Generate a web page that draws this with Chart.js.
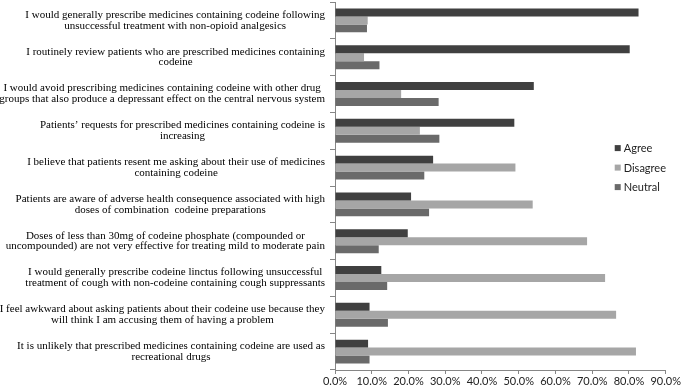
<!DOCTYPE html>
<html>
<head>
<meta charset="utf-8">
<script src="https://cdn.jsdelivr.net/npm/chart.js@4/dist/chart.umd.min.js"></script>
<style>
  html, body { margin: 0; padding: 0; background: #ffffff; }
  #wrap { position: relative; width: 682px; height: 388px; }
</style>
</head>
<body>
<div id="wrap"><canvas id="c" width="682" height="388"></canvas></div>
<script>
const categories = [
  ["I would generally prescribe medicines containing codeine following", "unsuccessful treatment with non-opioid analgesics"],
  ["I routinely review patients who are prescribed medicines containing", "codeine"],
  ["I would avoid prescribing medicines containing codeine with other drug", "groups that also produce a depressant effect on the central nervous system"],
  ["Patients\u2019 requests for prescribed medicines containing codeine is", "increasing"],
  ["I believe that patients resent me asking about their use of medicines", "containing codeine"],
  ["Patients are aware of adverse health consequence associated with high", "doses of combination  codeine preparations"],
  ["Doses of less than 30mg of codeine phosphate (compounded or", "uncompounded) are not very effective for treating mild to moderate pain"],
  ["I would generally prescribe codeine linctus following unsuccessful", "treatment of cough with non-codeine containing cough suppressants"],
  ["I feel awkward about asking patients about their codeine use because they", "will think I am accusing them of having a problem"],
  ["It is unlikely that prescribed medicines containing codeine are used as", "recreational drugs"]
];
const seriesNames = ["Agree", "Disagree", "Neutral"];
const agree    = [82.6, 80.2, 54.1, 48.8, 26.7, 20.7, 19.8, 12.6, 9.4, 9.0];
const disagree = [8.9, 7.9, 18.0, 23.1, 49.1, 53.8, 68.6, 73.5, 76.5, 81.9];
const neutral  = [8.7, 12.1, 28.2, 28.4, 24.3, 25.6, 11.9, 14.2, 14.4, 9.4];
const xTicks = [0, 10, 20, 30, 40, 50, 60, 70, 80, 90];

const colors = ["#404040", "#a6a6a6", "#6a6a6a"];
const axisColor = "#868686";

const labelPlugin = {
  id: "wrappedLabels",
  afterDraw(chart) {
    const ctx = chart.ctx;
    const y = chart.scales.y;
    const area = chart.chartArea;
    ctx.save();
    ctx.font = "11px 'Liberation Serif', 'Times New Roman', serif";
    ctx.fillStyle = "#000000";
    ctx.textAlign = "center";
    ctx.textBaseline = "middle";
    const lineH = 10.8;
    const rightEdge = area.left - 10;
    chart.data.labels.forEach((lines, i) => {
      const cy = y.getPixelForValue(i);
      let maxW = 0;
      lines.forEach(l => { maxW = Math.max(maxW, ctx.measureText(l).width); });
      const cx = rightEdge - maxW / 2;
      const startY = cy - (lines.length - 1) * lineH / 2;
      lines.forEach((l, k) => ctx.fillText(l, cx, startY + k * lineH));
    });
    // legend
    ctx.font = "11px Lato, 'Liberation Sans', sans-serif";
    ctx.textAlign = "left";
    const lx = area.right - 51;
    const ly0 = area.top + (area.bottom - area.top) * 0.397;
    chart.data.datasets.forEach((ds, k) => {
      const yy = ly0 + k * 19.5;
      ctx.fillStyle = ds.backgroundColor;
      ctx.fillRect(lx, yy - 3, 6, 6);
      ctx.fillStyle = "#222222";
      ctx.fillText(ds.label, lx + 9, yy + 0.5);
    });
    ctx.restore();
  }
};

new Chart(document.getElementById("c"), {
  type: "bar",
  data: {
    labels: categories,
    datasets: [
      { label: seriesNames[0], data: agree, backgroundColor: colors[0] },
      { label: seriesNames[1], data: disagree, backgroundColor: colors[1] },
      { label: seriesNames[2], data: neutral, backgroundColor: colors[2] }
    ]
  },
  options: {
    indexAxis: "y",
    responsive: false,
    animation: false,
    maintainAspectRatio: false,
    layout: { padding: { top: 2, right: 15, left: 0, bottom: 0 } },
    datasets: { bar: { categoryPercentage: 0.65, barPercentage: 1.0, borderWidth: 0 } },
    plugins: { legend: { display: false }, tooltip: { enabled: false } },
    scales: {
      x: {
        min: 0, max: 90,
        afterBuildTicks(scale) { scale.ticks = xTicks.map(v => ({ value: v })); },
        afterFit(scale) { scale.height = 18; },
        border: { color: axisColor, width: 1 },
        grid: { drawOnChartArea: false, drawTicks: true, tickLength: 4, color: axisColor },
        ticks: {
          padding: 1,
          color: "#222222",
          font: { family: "Lato, 'Liberation Sans', sans-serif", size: 11 },
          callback: (v) => Number(v).toFixed(1) + "%"
        }
      },
      y: {
        afterFit(scale) { scale.width = 335; },
        border: { color: axisColor, width: 1 },
        grid: { offset: true, drawOnChartArea: false, drawTicks: true, tickLength: 5, color: axisColor },
        ticks: { display: false }
      }
    }
  },
  plugins: [labelPlugin]
});
</script>
</body>
</html>
